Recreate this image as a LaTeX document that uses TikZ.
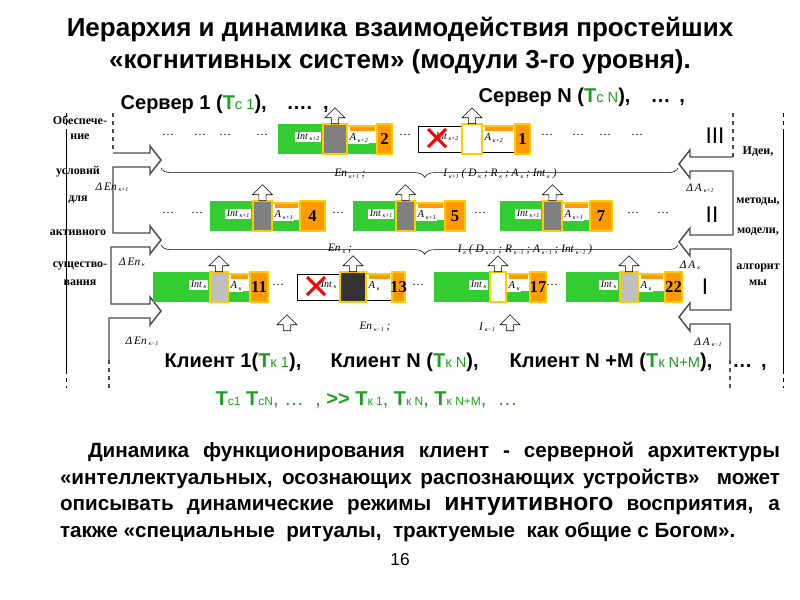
\documentclass[tikz,border=0pt]{standalone}
\usepackage{fontspec}
\setmainfont{Liberation Serif}
\setsansfont{Liberation Sans}
\usetikzlibrary{shapes.arrows}
\usetikzlibrary{decorations.pathreplacing}
\definecolor{cgreen}{HTML}{33CC33}
\definecolor{corange}{HTML}{FF9900}
\definecolor{cyellow}{HTML}{FFCC00}
\definecolor{tgreen}{HTML}{1E9E1E}
\definecolor{cgray}{HTML}{808080}
\definecolor{clight}{HTML}{BFBFBF}
\definecolor{cdark}{HTML}{333333}
\tikzset{
up/.style = {single arrow, draw=black, fill=white, shape border rotate=90,
             minimum height=12pt, minimum width=15pt, single arrow head extend=3pt,
             inner sep=1.5pt, anchor=tail}
}
\newcommand{\sub}[1]{\,{\fontsize{4.5}{5}\selectfont\raisebox{-0.5ex}{#1}}}
\newcommand{\tg}[1]{{\color{tgreen}Т{\fontsize{11}{12}\selectfont\mdseries #1}}}
\def\subidx{к}
% x0, yc, green width, mid width, A width, number width, number, mid fill, green left
\newcommand{\module}[9]{%
\pgfmathsetmacro\xa{#1+#3}\pgfmathsetmacro\xb{\xa+#4}%
\pgfmathsetmacro\xc{\xb+#5}\pgfmathsetmacro\xd{\xc+#6}%
\ifnum#9=1
 \fill[cgreen] (#1,#2-15) rectangle (\xa,#2+15);
 \fill[cgreen] (\xb,#2+4) rectangle (\xc,#2+15);
\else
 \draw[fill=white] (#1,#2-13) rectangle (\xc,#2+13);
\fi
\node[fill=white, inner sep=1pt, font=\itshape\fontsize{7.5}{8}\selectfont, anchor=east] (i#7) at (\xa-2,#2-2) {Int\sub{\subidx}};
\ifnum#9=0
 \draw[red, line width=2.2pt] (#1+10,#2-10) -- (#1+28,#2+8) (#1+10,#2+8) -- (#1+28,#2-10);
\fi
\draw[cyellow, line width=1.5pt] (\xb,#2-13) -- (\xc,#2-13);
\fill[corange] (\xb+3,#2-12) rectangle (\xc-2,#2-8);
\node[fill=white, inner sep=1pt, font=\itshape\fontsize{8}{9}\selectfont, anchor=west] (a#7) at (\xb+1,#2-1) {A\sub{\subidx}};
\filldraw[fill=#8, draw=cyellow, line width=1.5pt] (\xa,#2-15) rectangle (\xb,#2+15);
\filldraw[fill=corange, draw=cyellow, line width=2pt] (\xc,#2-15) rectangle (\xd,#2+15);
\node[font=\bfseries\fontsize{12.5}{14}\selectfont] (n#7) at ({(\xc+\xd)/2},#2) {#7};
\node[up] (u#7) at ({(\xa+\xb)/2},#2-15) {};
}

\begin{document}
\begin{tikzpicture}[x=0.75pt,y=-0.75pt,
fat/.style={draw=black!70, line width=1.1pt},
brc/.style={decorate, decoration={brace, mirror, amplitude=7pt, aspect=0.51}, thin},
lab/.style={font=\itshape\fontsize{8.5}{9}\selectfont, inner sep=1pt},
side/.style={font=\bfseries\fontsize{9}{10}\selectfont, inner sep=0pt},
dt/.style={font=\fontsize{9}{10}\selectfont},
head/.style={font=\sffamily\bfseries\fontsize{15}{17}\selectfont, anchor=west}]
\useasboundingbox (0,0) rectangle (800,600);

% title
\node[font=\sffamily\bfseries\fontsize{19.5}{24}\selectfont, align=center] (title) at (400,46)
 {Иерархия и динамика взаимодействия простейших\\«когнитивных систем» (модули 3-го уровня).};

\node[head] (s1) at (116,104) {Сервер 1 (\tg{с 1}),\quad …. \,,};
\node[head] (sN) at (474,97) {Сервер N (\tg{c N}),\quad … \,,};

% outer lines
\draw[dashed] (66,113) -- (66,130);
\draw (66,130) -- (66,370);
\draw[dashed] (66,370) -- (66,388);
\draw[dashed] (783,113) -- (783,130);
\draw (783,130) -- (783,370);
\draw[dashed] (783,370) -- (783,388);

% left fat arrows
\draw[fat, dashed] (113,113) -- (113,153);
\draw[fat] (113,153) -- (150,153) -- (150,146) -- (161,160) -- (150,174) -- (150,167) -- (113,167)
 -- (113,233) -- (150,233) -- (150,226) -- (161,240) -- (150,254) -- (150,247) -- (111,247)
 -- (111,304) -- (150,304) -- (150,297) -- (161,311) -- (150,325) -- (150,318) -- (109,318) -- (109,360);
\draw[fat, dashed] (109,360) -- (109,388);
% right fat arrows
\draw[fat, dashed] (733,113) -- (733,157);
\draw[fat] (733,157) -- (690,157) -- (690,150) -- (679,164) -- (690,178) -- (690,171) -- (733,171)
 -- (733,235) -- (690,235) -- (690,228) -- (679,242) -- (690,256) -- (690,249) -- (731,249)
 -- (731,310) -- (690,310) -- (690,303) -- (679,317) -- (690,331) -- (690,324) -- (730,324) -- (730,360);
\draw[fat, dashed] (730,360) -- (730,388);

% braces
\draw[brc] (161,168) -- (678,168);
\draw[brc] (161,245) -- (678,245);

% side texts
\node[side] (t1) at (80,120) {Обеспече-};
\node[side] (t2) at (80,137) {ние};
\node[side] (t3) at (78,172) {условий};
\node[side] (t4) at (78,200) {для};
\node[side] (t5) at (78,233) {активного};
\node[side] (t6) at (80,266) {существо-};
\node[side] (t7) at (80,283) {вания};
\node[side] (r1) at (758,152) {Идеи,};
\node[side] (r2) at (758,202) {методы,};
\node[side] (r3) at (758,232) {модели,};
\node[side] (r4) at (758,268) {алгорит};
\node[side] (r5) at (758,283) {мы};

% level III
\def\subidx{к+2}
\module{278}{139}{45}{24}{30}{15}{2}{cgray}{1}
\module{418}{139}{44}{20}{33}{15}{1}{white}{0}
\foreach \x in {168,200,225,262,405,547,578,605,637} \node[dt] at (\x,135) {…};
\node[font=\sffamily\fontsize{17}{18}\selectfont] (l3) at (715,136) {III};

% level II
\def\subidx{к+1}
\module{210}{216}{43}{19}{28}{25}{4}{cgray}{1}
\module{353}{216}{43}{19}{30}{20}{5}{cgray}{1}
\module{500}{216}{43}{19}{28}{22}{7}{cgray}{1}
\foreach \x in {168,197,338,480,633,663} \node[dt] at (\x,213) {…};
\node[font=\sffamily\fontsize{17}{18}\selectfont] (l2) at (712,215) {II};

% level I
\def\subidx{к}
\module{153}{287}{57}{18}{22}{18}{11}{clight}{1}
\module{297}{287}{43}{26}{26}{13}{13}{cdark}{0}
\module{434}{287}{56}{16}{24}{16}{17}{white}{1}
\module{566}{287}{54}{18}{27}{17}{22}{clight}{1}
\foreach \x in {278,418,552} \node[dt] at (\x,285) {…};
\node[font=\sffamily\fontsize{17}{18}\selectfont] (l1) at (705,287) {I};

% flows
\node[lab] (e3) at (112,187) {Δ\,En\sub{к+1}};
\node[lab] (f3) at (350,174) {En\sub{к+1} ;};
\node[lab] (g3) at (500,174) {I\sub{к+1} ( D\sub{к} ; R\sub{к} ; A\sub{к} ; Int\sub{к} )};
\node[lab] (h3) at (700,188) {Δ\,A\sub{к+1}};
\node[lab] (e2) at (132,262) {Δ\,En\sub{к}};
\node[lab] (f2) at (340,249) {En\sub{к} ;};
\node[lab] (g2) at (525,250) {I\sub{к} ( D\sub{к−1} ; R\sub{к−1} ; A\sub{к−1} ; Int\sub{к−1} )};
\node[lab] (h2) at (690,265) {Δ\,A\sub{к}};
\node[lab] (e1) at (142,341) {Δ\,En\sub{к−1}};
\node[lab] (f1) at (375,327) {En\sub{к−1} ;};
\node[lab] (g1) at (487,327) {I\sub{к−1}};
\node[lab] (h1) at (708,342) {Δ\,A\sub{к−1}};
\node[up] (ua) at (287,331) {};
\node[up] (ub) at (510,331) {};

% clients
\node[head] (k1) at (160,362) {Клиент 1(\tg{к 1}),};
\node[head] (kN) at (326,362) {Клиент N (\tg{к N}),};
\node[head] (kM) at (505,362) {Клиент N +М (\tg{к N+M}),\quad … \,,};
\node[font=\sffamily\fontsize{15}{17}\selectfont, text=tgreen, anchor=west] (tt) at (211,400)
 {\textbf{Т}{\small с1} \textbf{Т}{\small сN}, …\;\;, \textbf{{>}{>} Т}{\small к 1}, \textbf{Т}{\small к N}, \textbf{Т}{\small к N+M},\; …};

% text
\node[font=\sffamily\bfseries\fontsize{15.5}{20}\selectfont, text width=540pt, align=justify, inner sep=0pt] (par) at (420,492)
 {\hspace*{21pt}Динамика функционирования клиент - серверной архитектуры\linebreak «интеллектуальных, осознающих распознающих устройств» \ может\linebreak описывать динамические режимы {\fontsize{18.5}{20}\selectfont интуитивного} восприятия, а\linebreak также «специальные \ ритуалы, \ трактуемые \ как общие с Богом».\hfill\null};
\node[font=\sffamily\fontsize{13}{15}\selectfont] (pg) at (400,560) {16};
\end{tikzpicture}
\end{document}
